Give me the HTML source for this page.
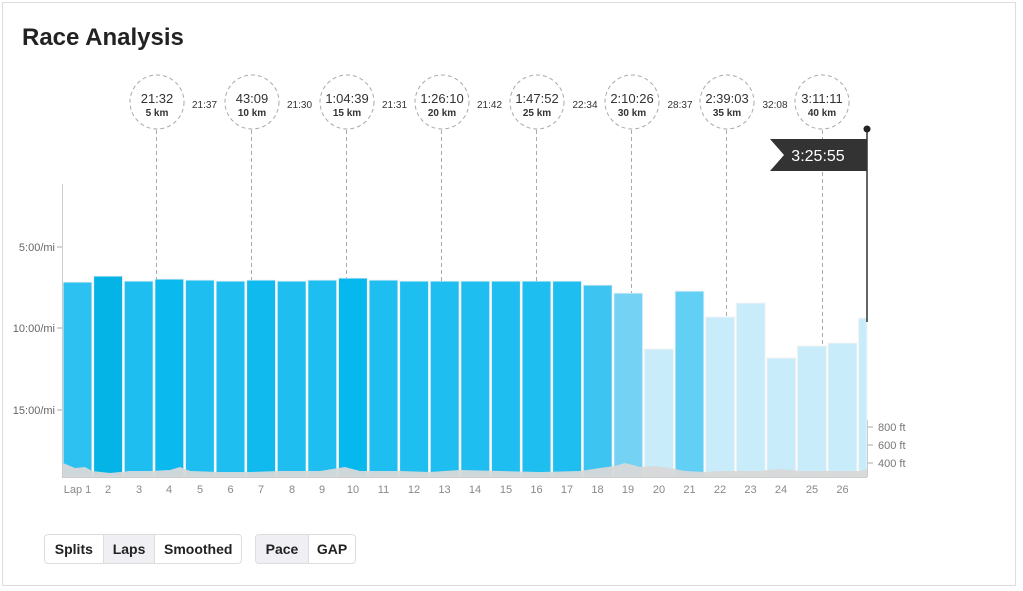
<!DOCTYPE html>
<html><head><meta charset="utf-8"><style>
body{margin:0;background:#fff;font-family:"Liberation Sans",sans-serif;}
.card{position:absolute;left:2px;top:2px;width:1012px;height:582px;border:1px solid #ddd;}
h1{position:absolute;left:22px;top:24px;margin:0;font-size:24px;font-weight:bold;color:#222;}
.grp{position:absolute;top:534px;height:28px;display:flex;border:1px solid #ddd;border-radius:4px;overflow:hidden;}
.grp div{font-size:14px;font-weight:bold;color:#222;line-height:28px;text-align:center;border-left:1px solid #ddd;}
.grp div:first-child{border-left:none}
.sel{background:#f0f0f4}
</style></head><body>
<div class="card"></div>
<h1>Race Analysis</h1>
<svg width="1023" height="591" style="position:absolute;left:0;top:0" font-family="Liberation Sans, sans-serif">
<g fill="#1ebef0" stroke="#f4f4f4" stroke-width="1">
<rect x="63" y="282" width="29" height="195" fill="#2cc1f0"/>
<rect x="93.6" y="276" width="29" height="201" fill="#04b4e6"/>
<rect x="124.2" y="281" width="29" height="196"/>
<rect x="154.8" y="279" width="29" height="198" fill="#0ab9ee"/>
<rect x="185.4" y="280" width="29" height="197"/>
<rect x="216" y="281" width="29" height="196"/>
<rect x="246.6" y="280" width="29" height="197" fill="#10baee"/>
<rect x="277.2" y="281" width="29" height="196"/>
<rect x="307.8" y="280" width="29" height="197"/>
<rect x="338.4" y="278" width="29" height="199" fill="#06b8ee"/>
<rect x="369" y="280" width="29" height="197"/>
<rect x="399.6" y="281" width="29" height="196"/>
<rect x="430.2" y="281" width="29" height="196"/>
<rect x="460.8" y="281" width="29" height="196"/>
<rect x="491.4" y="281" width="29" height="196"/>
<rect x="522" y="281" width="29" height="196"/>
<rect x="552.6" y="281" width="29" height="196"/>
<rect x="583.2" y="285" width="29" height="192" fill="#3ec4f0"/>
<rect x="613.8" y="293" width="29" height="184" fill="#74d3f5"/>
<rect x="644.4" y="349" width="29" height="128" fill="#c8ecfa"/>
<rect x="675" y="291" width="29" height="186" fill="#62cff4"/>
<rect x="705.6" y="317" width="29" height="160" fill="#c8ecfa"/>
<rect x="736.2" y="303" width="29" height="174" fill="#c8ecfa"/>
<rect x="766.8" y="358" width="29" height="119" fill="#c8ecfa"/>
<rect x="797.4" y="346" width="29" height="131" fill="#c8ecfa"/>
<rect x="828" y="343" width="29" height="134" fill="#c8ecfa"/>
<rect x="858.6" y="318" width="8.4" height="159" fill="#c8ecfa"/>
</g>
<polygon fill="#d8d8d8" opacity="0.95" points="63,463 75,468 85,467 92,471 110,473 130,471 150,471 170,470 180,467 190,471 220,472 250,472 280,471 320,471 345,467 360,471 400,471 430,472 460,470 500,471 540,472 580,471 600,468 615,466 625,463 640,467 655,466 670,468 685,471 705,472 720,471 760,471 780,469 800,471 830,471 860,471 867,469 867,477 63,477"/>
<line x1="62.5" y1="184" x2="62.5" y2="477" stroke="#ccc"/>
<line x1="62" y1="477.5" x2="867" y2="477.5" stroke="#ccc"/>
<line x1="867.5" y1="420" x2="867.5" y2="477" stroke="#ccc"/>
<g stroke="#aaa"><line x1="57" y1="247" x2="62" y2="247"/><line x1="57" y1="328" x2="62" y2="328"/><line x1="57" y1="410" x2="62" y2="410"/>
<line x1="868" y1="427" x2="873" y2="427"/><line x1="868" y1="445" x2="873" y2="445"/><line x1="868" y1="463" x2="873" y2="463"/></g>
<g font-size="11" fill="#666" text-anchor="end"><text x="55" y="251">5:00/mi</text><text x="55" y="332">10:00/mi</text><text x="55" y="414">15:00/mi</text></g>
<g font-size="11" fill="#777"><text x="878" y="431">800 ft</text><text x="878" y="449">600 ft</text><text x="878" y="467">400 ft</text></g>
<g font-size="11" fill="#888" text-anchor="middle">
<text x="77.5" y="493">Lap 1</text><text x="108" y="493">2</text><text x="139" y="493">3</text><text x="169" y="493">4</text><text x="200" y="493">5</text><text x="230.5" y="493">6</text><text x="261" y="493">7</text><text x="292" y="493">8</text><text x="322" y="493">9</text><text x="353" y="493">10</text><text x="383.5" y="493">11</text><text x="414" y="493">12</text><text x="444.5" y="493">13</text><text x="475" y="493">14</text><text x="506" y="493">15</text><text x="536.5" y="493">16</text><text x="567" y="493">17</text><text x="597.5" y="493">18</text><text x="628" y="493">19</text><text x="659" y="493">20</text><text x="689.5" y="493">21</text><text x="720" y="493">22</text><text x="750.5" y="493">23</text><text x="781" y="493">24</text><text x="812" y="493">25</text><text x="842.5" y="493">26</text>
</g>
<g stroke="#aaa" stroke-dasharray="4,3" fill="none">
<circle cx="157" cy="102" r="27"/><circle cx="252" cy="102" r="27"/><circle cx="347" cy="102" r="27"/><circle cx="442" cy="102" r="27"/><circle cx="537" cy="102" r="27"/><circle cx="632" cy="102" r="27"/><circle cx="727" cy="102" r="27"/><circle cx="822" cy="102" r="27"/>
<line x1="156.5" y1="130" x2="156.5" y2="279"/><line x1="251.5" y1="130" x2="251.5" y2="280"/><line x1="346.5" y1="130" x2="346.5" y2="278"/><line x1="441.5" y1="130" x2="441.5" y2="281"/><line x1="536.5" y1="130" x2="536.5" y2="281"/><line x1="631.5" y1="130" x2="631.5" y2="293"/><line x1="726.5" y1="130" x2="726.5" y2="317"/><line x1="822.5" y1="130" x2="822.5" y2="346"/>
</g>
<g fill="#333" text-anchor="middle">
<g font-size="13"><text x="157" y="103">21:32</text><text x="252" y="103">43:09</text><text x="347" y="103">1:04:39</text><text x="442" y="103">1:26:10</text><text x="537" y="103">1:47:52</text><text x="632" y="103">2:10:26</text><text x="727" y="103">2:39:03</text><text x="822" y="103">3:11:11</text></g>
<g font-size="10" font-weight="bold"><text x="157" y="116">5 km</text><text x="252" y="116">10 km</text><text x="347" y="116">15 km</text><text x="442" y="116">20 km</text><text x="537" y="116">25 km</text><text x="632" y="116">30 km</text><text x="727" y="116">35 km</text><text x="822" y="116">40 km</text></g>
<g font-size="10"><text x="204.5" y="108">21:37</text><text x="299.5" y="108">21:30</text><text x="394.5" y="108">21:31</text><text x="489.5" y="108">21:42</text><text x="585" y="108">22:34</text><text x="680" y="108">28:37</text><text x="775" y="108">32:08</text></g>
</g>
<line x1="867" y1="129" x2="867" y2="322" stroke="#333" stroke-width="1.5"/>
<circle cx="867" cy="129" r="3.5" fill="#222"/>
<polygon points="770,139 867,139 867,171 770,171 784,155" fill="#333"/>
<text x="818" y="161" font-size="16" fill="#fff" text-anchor="middle">3:25:55</text>
</svg>
<div class="grp" style="left:44px;width:196px"><div style="width:58px">Splits</div><div class="sel" style="width:51px">Laps</div><div style="width:86px">Smoothed</div></div>
<div class="grp" style="left:255px;width:99px"><div class="sel" style="width:52px">Pace</div><div style="width:46px">GAP</div></div>
</body></html>
